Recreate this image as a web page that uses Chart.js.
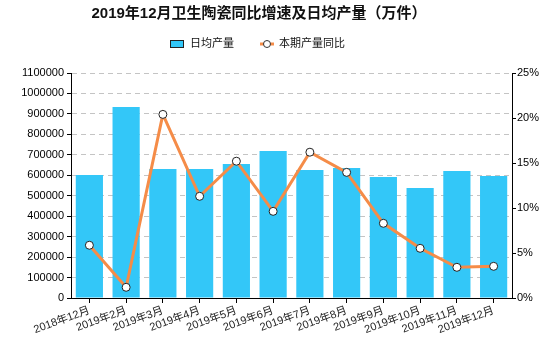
<!DOCTYPE html>
<html>
<head>
<meta charset="utf-8">
<script src="https://cdn.jsdelivr.net/npm/chart.js@4"></script>
<style>
  html, body { margin: 0; padding: 0; background: #fff; }
  #wrap { width: 550px; height: 350px; }
</style>
</head>
<body>
<div id="wrap"><canvas id="myChart"></canvas></div>
<script>
// data
const months = ["2018年12月", "2019年2月", "2019年3月", "2019年4月", "2019年5月", "2019年6月",
	"2019年7月", "2019年8月", "2019年9月", "2019年10月", "2019年11月", "2019年12月"];
const dailyOutput = [601000, 934000, 631000, 631000, 655000, 719000,
	626000, 636000, 592000, 538000, 621000, 596000];
const yoyGrowth = [5.86, 1.19, 20.4, 11.3, 15.2, 9.63, 16.2, 13.96, 8.3, 5.52, 3.41, 3.52];

const titleText = "2019年12月卫生陶瓷同比增速及日均产量（万件）";
const barColor = "#33c7f8";
const lineColor = "#f58c48";
const fontFamily = '"Liberation Sans", "Noto Sans CJK SC", sans-serif';

// title + legend drawn by hand so they sit where the original puts them
const headerPlugin = {
	id: "header",
	afterDraw(chart) {
		const ctx = chart.ctx;
		ctx.save();
		ctx.fillStyle = "#111";
		ctx.textBaseline = "middle";
		ctx.textAlign = "center";
		ctx.font = "bold 15px " + fontFamily;
		ctx.fillText(titleText, 259, 14);

		ctx.font = "11px " + fontFamily;
		ctx.textAlign = "left";
		const ly = 44;
		let x = 170;
		// bar item
		ctx.fillStyle = barColor;
		ctx.fillRect(x, ly - 4, 14, 8);
		ctx.strokeStyle = "#222";
		ctx.lineWidth = 1;
		ctx.strokeRect(x + 0.5, ly - 3.5, 13, 7);
		x += 20;
		ctx.fillStyle = "#111";
		const barLabel = chart.data.datasets[0].label;
		ctx.fillText(barLabel, x, ly);
		x += ctx.measureText(barLabel).width + 26;
		// line item
		ctx.strokeStyle = lineColor;
		ctx.lineWidth = 3;
		ctx.beginPath();
		ctx.moveTo(x, ly);
		ctx.lineTo(x + 14, ly);
		ctx.stroke();
		ctx.beginPath();
		ctx.arc(x + 7, ly, 3.5, 0, Math.PI * 2);
		ctx.fillStyle = "#fff";
		ctx.fill();
		ctx.strokeStyle = "#333";
		ctx.lineWidth = 1;
		ctx.stroke();
		x += 19;
		ctx.fillStyle = "#111";
		ctx.fillText(chart.data.datasets[1].label, x, ly);
		ctx.restore();
	}
};

new Chart(document.getElementById("myChart"), {
	type: "bar",
	data: {
		labels: months,
		datasets: [
			{
				label: "日均产量",
				data: dailyOutput,
				backgroundColor: barColor,
				borderWidth: 0,
				categoryPercentage: 1,
				barPercentage: 0.74,
				yAxisID: "y",
				order: 1
			},
			{
				type: "line",
				label: "本期产量同比",
				data: yoyGrowth,
				borderColor: lineColor,
				borderWidth: 3,
				tension: 0,
				pointRadius: 4,
				pointBackgroundColor: "#fff",
				pointBorderColor: "#222",
				pointBorderWidth: 1,
				yAxisID: "y1",
				order: 0
			}
		]
	},
	options: {
		responsive: true,
		maintainAspectRatio: false,
		devicePixelRatio: 1,
		animation: false,
		layout: { padding: { top: 73, left: 0, right: 0, bottom: 0 } },
		plugins: {
			legend: { display: false },
			title: { display: false },
			tooltip: { enabled: false }
		},
		scales: {
			x: {
				afterFit: s => { s.height = 52; },
				grid: {
					offset: false,
					drawOnChartArea: false,
					tickLength: 5,
					tickColor: "#000"
				},
				border: { color: "#000" },
				ticks: {
					color: "#222",
					font: { family: fontFamily, size: 11 },
					minRotation: 20,
					maxRotation: 20,
					padding: 1,
					autoSkip: false
				}
			},
			y: {
				position: "left",
				min: 0,
				max: 1100000,
				afterFit: s => { s.width = 71; },
				grid: {
					color: "#c4c4c4",
					tickColor: "#000",
					tickLength: 4,
					tickBorderDash: []
				},
				border: { color: "#000", dash: [5, 4] },
				ticks: {
					stepSize: 100000,
					color: "#000",
					padding: 3,
					font: { family: fontFamily, size: 11 },
					callback: v => String(v)
				}
			},
			y1: {
				position: "right",
				min: 0,
				max: 25,
				afterFit: s => { s.width = 38; },
				grid: {
					drawOnChartArea: false,
					tickColor: "#000",
					tickLength: 4
				},
				border: { color: "#000" },
				ticks: {
					stepSize: 5,
					color: "#000",
					padding: 1,
					font: { family: fontFamily, size: 11 },
					callback: v => v + "%"
				}
			}
		}
	},
	plugins: [headerPlugin]
});
</script>
</body>
</html>
